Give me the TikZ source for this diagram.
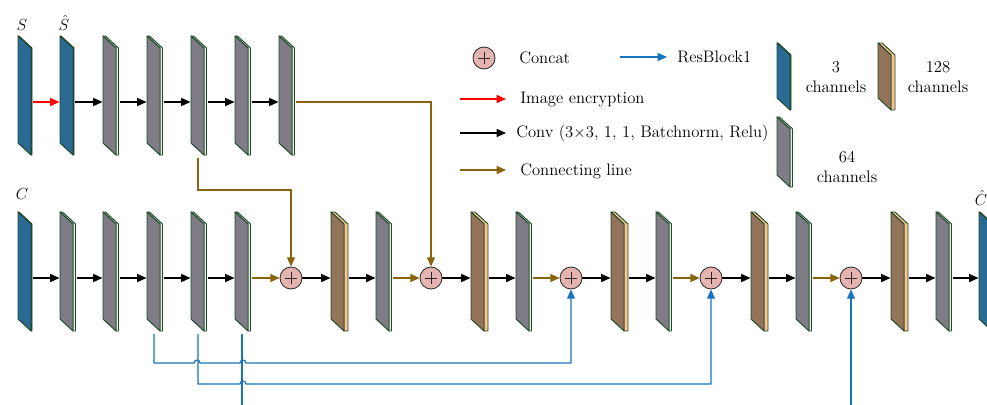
\documentclass[tikz,border=0pt]{standalone}
\usepackage{amsmath}
\usetikzlibrary{arrows.meta}
\definecolor{slabblue}{RGB}{44,106,150}
\definecolor{slabgray}{RGB}{128,124,134}
\definecolor{slabbrown}{RGB}{147,116,90}
\definecolor{peach}{RGB}{250,196,140}
\definecolor{sidegreen}{RGB}{225,242,225}
\definecolor{slabline}{RGB}{30,72,42}
\definecolor{linkgold}{RGB}{138,100,12}
\definecolor{resblue}{RGB}{22,116,192}
\definecolor{catpink}{RGB}{230,180,176}
\tikzset{
  slabedge/.style={draw=slabline, line width=0.7pt, line join=round},
  conv/.style={-{Triangle[length=7pt,width=6pt]}, line width=1.1pt, black},
  enc/.style={conv, red},
  link/.style={conv, linkgold},
  res/.style={-{Triangle[length=7pt,width=6pt]}, line width=0.9pt, resblue},
  concat/.style={circle, draw=black!85, fill=catpink, line width=0.6pt,
    minimum size=16.5pt, inner sep=0pt,
    path picture={
      \draw[line width=0.6pt] ([xshift=-4.8pt]path picture bounding box.center)
        -- ([xshift=4.8pt]path picture bounding box.center);
      \draw[line width=0.6pt] ([yshift=-4.8pt]path picture bounding box.center)
        -- ([yshift=4.8pt]path picture bounding box.center);}},
  lbl/.style={font=\fontsize{12.5}{14.5}\selectfont, inner sep=0pt},
}
% slab: name, x, top, height, depth, face colour, side colour
\newcommand{\slab}[7]{%
  \filldraw[slabedge, fill=#7] (#2,-#3) -- ++(#5,0) -- ++(13,-12) -- ++(0,-#4)
    -- ++(-#5,0) -- ++(0,#4) -- cycle;
  \filldraw[slabedge, fill=#6] (#2,-#3) -- ++(13,-12) -- ++(0,-#4) -- ++(-13,12) -- cycle;
  \coordinate (#1-l) at ({#2-0.5},{-#3-66});
  \coordinate (#1-r) at ({#2+13+#5+1},{-#3-66});
  \coordinate (#1-b) at ({#2+7},{-#3-#4-15});
}

\begin{document}
\begin{tikzpicture}[x=0.75pt, y=0.75pt]
\useasboundingbox (0,0) rectangle (987,-404);
\clip (0,0) rectangle (987,-404);

% secret image branch
\slab{s}{18}{36}{107}{1}{slabblue}{slabblue}
\slab{sh}{60}{36}{107}{1}{slabblue}{slabblue}
\slab{t1}{103}{36}{107}{2.5}{slabgray}{sidegreen}
\slab{t2}{147}{36}{107}{2.5}{slabgray}{sidegreen}
\slab{t3}{191}{36}{107}{2.5}{slabgray}{sidegreen}
\slab{t4}{235}{36}{107}{2.5}{slabgray}{sidegreen}
\slab{t5}{279}{36}{107}{2.5}{slabgray}{sidegreen}
\node[lbl] (ls) at (22,-25) {$S$};
\node[lbl] (lsh) at (64,-23) {$\hat{S}$};
\draw[enc] (s-r) -- (sh-l);
\draw[conv] (sh-r) -- (t1-l);
\draw[conv] (t1-r) -- (t2-l);
\draw[conv] (t2-r) -- (t3-l);
\draw[conv] (t3-r) -- (t4-l);
\draw[conv] (t4-r) -- (t5-l);

% cover image branch
\slab{c}{18}{212}{107}{1}{slabblue}{slabblue}
\slab{f1}{60}{212}{107}{2.5}{slabgray}{sidegreen}
\slab{f2}{103}{212}{107}{2.5}{slabgray}{sidegreen}
\slab{f3}{147}{212}{107}{2.5}{slabgray}{sidegreen}
\slab{f4}{191}{212}{107}{2.5}{slabgray}{sidegreen}
\slab{f5}{235}{212}{107}{2.5}{slabgray}{sidegreen}
\node[lbl] (lc) at (22,-194) {$C$};
\draw[conv] (c-r) -- (f1-l);
\draw[conv] (f1-r) -- (f2-l);
\draw[conv] (f2-r) -- (f3-l);
\draw[conv] (f3-r) -- (f4-l);
\draw[conv] (f4-r) -- (f5-l);

\foreach \i in {1,...,5}{
  \pgfmathsetmacro{\cx}{151+140*\i}
  \pgfmathsetmacro{\bx}{191+140*\i}
  \pgfmathsetmacro{\gx}{236+140*\i}
  \node[concat] (cat\i) at (\cx,-278) {};
  \slab{b\i}{\bx}{212}{107}{4}{slabbrown}{peach}
  \slab{g\i}{\gx}{212}{107}{2.5}{slabgray}{sidegreen}
  \draw[conv] (cat\i) -- (b\i-l);
  \draw[conv] (b\i-r) -- (g\i-l);
}
\slab{out}{979}{212}{107}{1}{slabblue}{slabblue}
\node[lbl] (lch) at (981,-198) {$\hat{C}$};

\draw[link] (f5-r) -- (cat1);
\draw[link] (g1-r) -- (cat2);
\draw[link] (g2-r) -- (cat3);
\draw[link] (g3-r) -- (cat4);
\draw[link] (g4-r) -- (cat5);
\draw[conv] (g5-r) -- (out-l);

% links from the secret branch
\draw[link] (t5-r) -| (cat2.north);
\draw[link] (t3-b) -- ++(0,-32) -| (cat1.north);

% resblock lines with hops
\draw[res] (f3-b) |- (194,-363) arc (180:0:3) -- (240,-363) arc (180:0:3) -| (cat3.south);
\draw[res] (f4-b) |- (240,-384) arc (180:0:3) -| (cat4.south);
\draw[res] (f5-b) -- ++(0,-100) -| (cat5.south);

% legend
\node[concat] (kcat) at (484,-58) {};
\node[lbl, anchor=west] (kcattxt) at (519,-58) {Concat};
\coordinate (kres) at (620,-57);
\draw[res] (kres) -- ++(47,0);
\node[lbl, anchor=west] (krestxt) at (677,-57) {ResBlock1};
\coordinate (kenc) at (460,-99);
\draw[enc] (kenc) -- ++(46,0);
\node[lbl, anchor=west] (kenctxt) at (520,-100) {Image encryption};
\coordinate (kconv) at (460,-133);
\draw[conv] (kconv) -- ++(46,0);
\node[lbl, anchor=west] (kconvtxt) at (516,-133) {Conv (3$\times$3, 1, 1, Batchnorm, Relu)};
\coordinate (klink) at (460,-170);
\draw[link] (klink) -- ++(46,0);
\node[lbl, anchor=west] (klinktxt) at (520,-171) {Connecting line};

\slab{kb}{777}{43}{55}{1}{slabblue}{slabblue}
\node[lbl, align=center] (kbtxt) at (836,-77) {3\\channels};
\slab{kr}{878}{43}{55}{4}{slabbrown}{peach}
\node[lbl, align=center] (krtxt) at (938,-77) {128\\channels};
\slab{kg}{777}{117}{58}{2.5}{slabgray}{sidegreen}
\node[lbl, align=center] (kgtxt) at (847,-167) {64\\channels};
\end{tikzpicture}
\end{document}
